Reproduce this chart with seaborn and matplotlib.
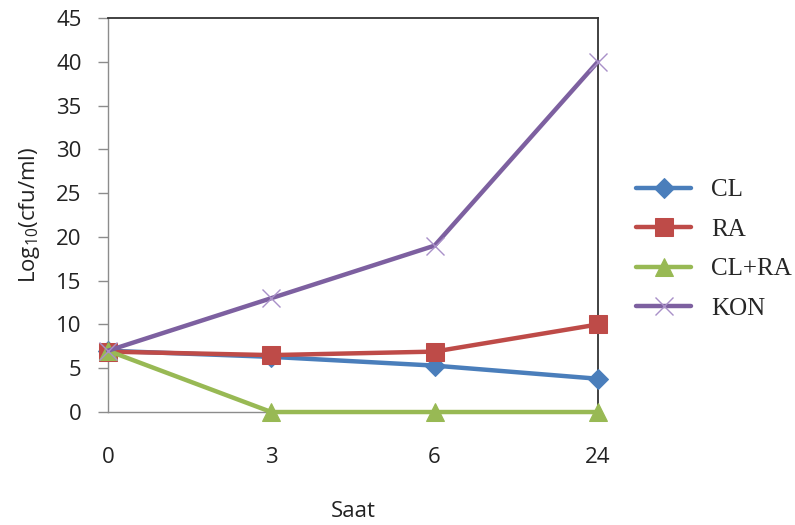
import matplotlib
matplotlib.use("Agg")
import matplotlib.pyplot as plt
import seaborn as sns
import pandas as pd

# Data
hours = ["0", "3", "6", "24"]
cl = [7.0, 6.3, 5.3, 3.8]
ra = [6.9, 6.5, 6.9, 10.0]
cl_ra = [7.0, 0.0, 0.0, 0.0]
kon = [7.0, 13.0, 19.0, 40.0]
series_names = ["CL", "RA", "CL+RA", "KON"]

sns.set_style("white")
plt.rcParams["font.family"] = ["Open Sans", "DejaVu Sans"]
plt.rcParams["mathtext.fontset"] = "custom"
plt.rcParams["mathtext.rm"] = "Open Sans"
plt.rcParams["mathtext.it"] = "Open Sans"

fig = plt.figure(figsize=(7.95, 5.25), dpi=100)
ax = fig.add_axes([0.1358, 0.2152, 0.752 - 0.1358, 0.9657 - 0.2152])

pos = list(range(len(hours)))
rows = []
for name, vals in zip(series_names, [cl, ra, cl_ra, kon]):
    for p, v in zip(pos, vals):
        rows.append({"pos": p, "val": v, "series": name})
df = pd.DataFrame(rows)

colors = {"CL": "#4A7EBB", "RA": "#BE4B48", "CL+RA": "#98B954", "KON": "#7D60A0"}
markers = {"CL": "D", "RA": "s", "CL+RA": "^", "KON": "x"}
msizes = {"CL": 10, "RA": 13, "CL+RA": 13, "KON": 13}

handles = []
for name in series_names:
    sub = df[df["series"] == name]
    kw = dict(marker=markers[name], markersize=msizes[name], color=colors[name], linewidth=3.2)
    if name == "KON":
        kw.update(markeredgecolor="#A990C8", markeredgewidth=1.0)
    else:
        kw.update(markeredgecolor=colors[name])
    sns.lineplot(data=sub, x="pos", y="val", ax=ax, legend=False, clip_on=False, zorder=3, **kw)
    handles.append(ax.lines[-1])

ax.set_xlim(0, 3)
ax.set_ylim(0, 45)
ax.set_yticks(range(0, 46, 5))
ax.set_xticks(pos)
ax.set_xticklabels(hours)

for s in ["left", "bottom"]:
    ax.spines[s].set_color("#8C8C8C")
    ax.spines[s].set_linewidth(1.0)
for s in ["top", "right"]:
    ax.spines[s].set_color("#333333")
    ax.spines[s].set_linewidth(1.3)

ax.tick_params(axis="y", direction="out", length=7, width=1, color="#8C8C8C",
               labelsize=16, pad=12, labelcolor="#222222", left=True)
ax.tick_params(axis="x", direction="out", length=0, labelsize=16, pad=25,
               labelcolor="#222222", bottom=True)

ax.set_xlabel("Saat", fontsize=16, labelpad=24, color="#222222")
ax.set_ylabel("Log$_{10}$(cfu/ml)", fontsize=16, labelpad=10, color="#222222")

leg = fig.legend(handles, series_names, loc="center left", bbox_to_anchor=(0.772, 0.525),
                 frameon=False, prop={"family": "Liberation Serif", "size": 18},
                 handlelength=2.2, labelspacing=0.68, handletextpad=0.8,
                 borderaxespad=0.5)

fig.savefig("out.png", dpi=100)
